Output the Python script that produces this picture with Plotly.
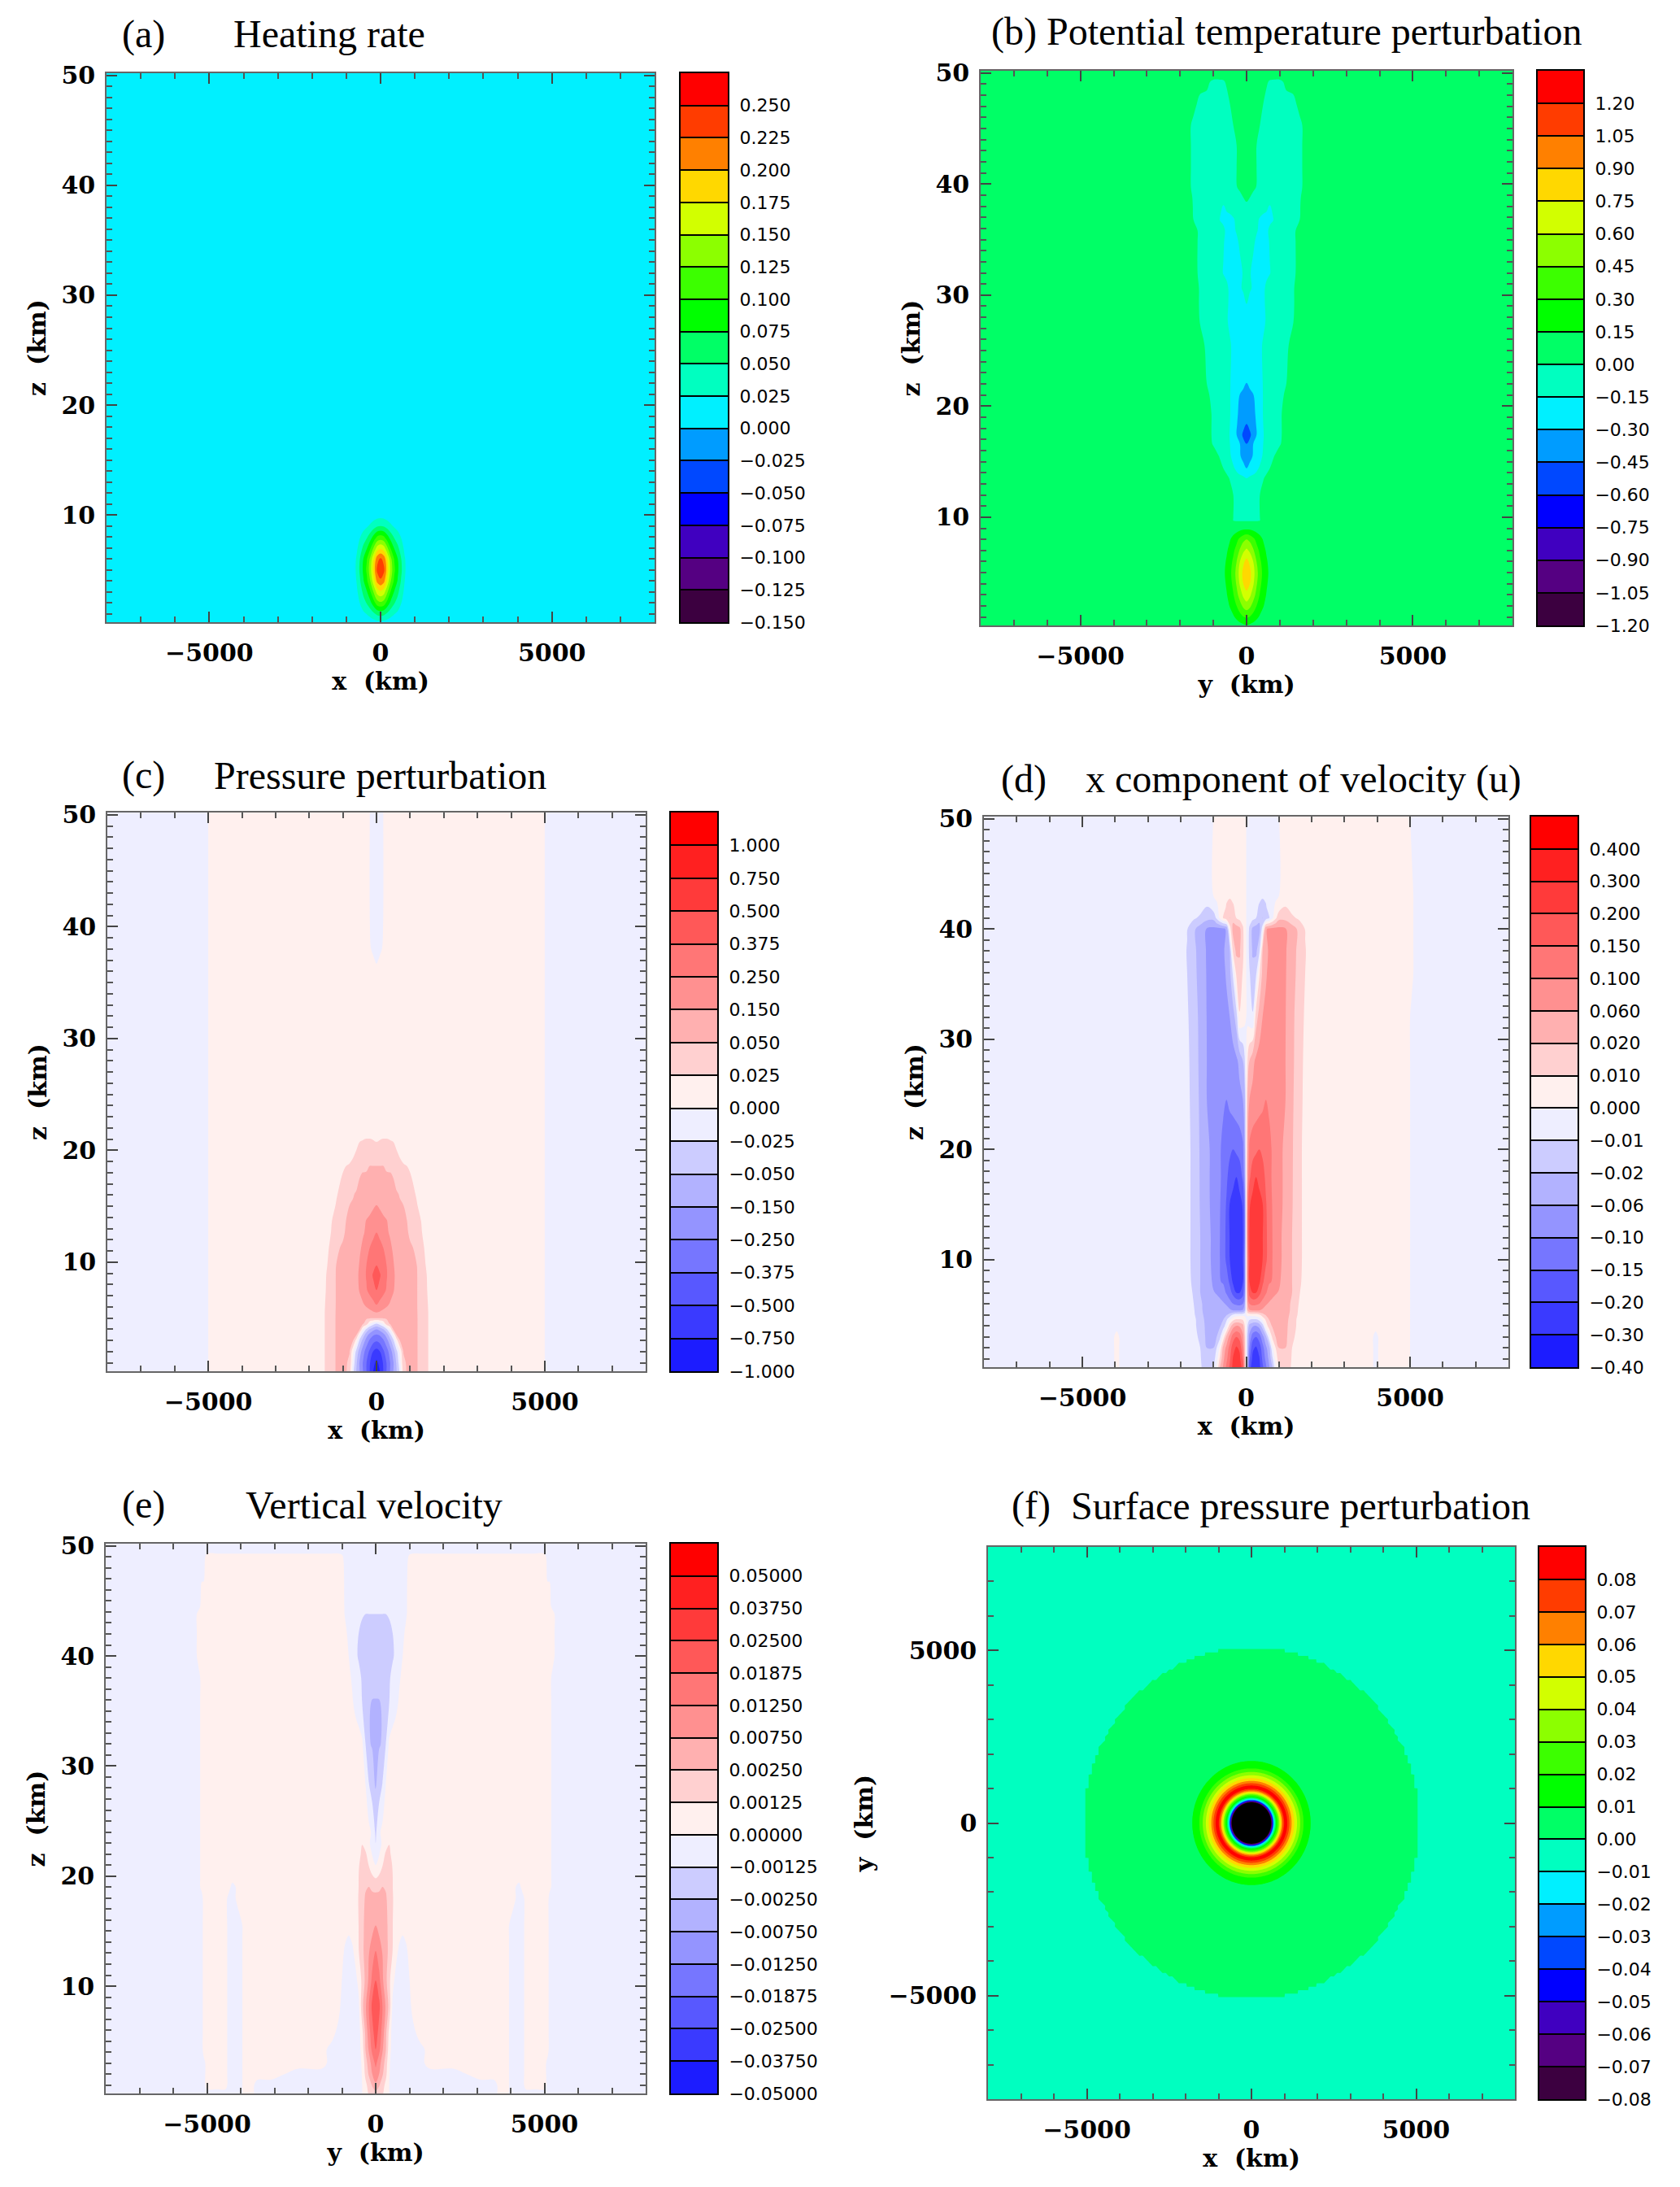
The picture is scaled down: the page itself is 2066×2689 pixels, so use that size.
import numpy as np
import plotly.graph_objects as go

W, H = 2066, 2689

RAINBOW = ["#3c0040", "#550082", "#4000c0", "#0000ff", "#0048ff", "#009cff", "#00f0ff", "#00ffc0", "#00ff66",
           "#00ff00", "#3cff00", "#8cff00", "#d2ff00", "#ffd800", "#ff8000", "#ff3c00", "#ff0000"]
BWR = ["#1c1cff", "#3a3aff", "#5858ff", "#7676ff", "#9494ff", "#b2b2ff", "#ccccff", "#eeeeff", "#fff0ee",
       "#ffd0d0", "#ffb0b0", "#ff9090", "#ff7676", "#ff5858", "#ff3a3a", "#ff2020", "#ff0000"]

# ---- colour bar levels and labels
A_LEVELS = [-.15, -.125, -.1, -.075, -.05, -.025, 0, .025, .05, .075, .1, .125, .15, .175, .2, .225, .25]
A_LABELS = ["−0.150", "−0.125", "−0.100", "−0.075", "−0.050", "−0.025", "0.000", "0.025", "0.050", "0.075",
            "0.100", "0.125", "0.150", "0.175", "0.200", "0.225", "0.250"]
B_LEVELS = [-1.2, -1.05, -.9, -.75, -.6, -.45, -.3, -.15, 0, .15, .3, .45, .6, .75, .9, 1.05, 1.2]
B_LABELS = ["−1.20", "−1.05", "−0.90", "−0.75", "−0.60", "−0.45", "−0.30", "−0.15", "0.00", "0.15", "0.30",
            "0.45", "0.60", "0.75", "0.90", "1.05", "1.20"]
C_LEVELS = [-1, -.75, -.5, -.375, -.25, -.15, -.05, -.025, 0, .025, .05, .15, .25, .375, .5, .75, 1]
C_LABELS = ["−1.000", "−0.750", "−0.500", "−0.375", "−0.250", "−0.150", "−0.050", "−0.025", "0.000", "0.025",
            "0.050", "0.150", "0.250", "0.375", "0.500", "0.750", "1.000"]
D_LEVELS = [-.4, -.3, -.2, -.15, -.1, -.06, -.02, -.01, 0, .01, .02, .06, .1, .15, .2, .3, .4]
D_LABELS = ["−0.40", "−0.30", "−0.20", "−0.15", "−0.10", "−0.06", "−0.02", "−0.01", "0.000", "0.010", "0.020",
            "0.060", "0.100", "0.150", "0.200", "0.300", "0.400"]
E_LEVELS = [-.05, -.0375, -.025, -.01875, -.0125, -.0075, -.0025, -.00125, 0, .00125, .0025, .0075, .0125,
            .01875, .025, .0375, .05]
E_LABELS = ["−0.05000", "−0.03750", "−0.02500", "−0.01875", "−0.01250", "−0.00750", "−0.00250", "−0.00125",
            "0.00000", "0.00125", "0.00250", "0.00750", "0.01250", "0.01875", "0.02500", "0.03750", "0.05000"]
F_LEVELS = [-.08, -.07, -.06, -.05, -.04, -.03, -.02, -.01, 0, .01, .02, .03, .04, .05, .06, .07, .08]
F_LABELS = ["−0.08", "−0.07", "−0.06", "−0.05", "−0.04", "−0.03", "−0.02", "−0.01", "0.00", "0.01", "0.02",
            "0.03", "0.04", "0.05", "0.06", "0.07", "0.08"]

# ---- (a) heating rate, half section x >= 0
A_X = [0, 100, 200, 300, 400, 500, 600, 700, 800, 8000]
A_Z = [.25, 1, 2, 3, 4, 5, 6, 7, 8, 9, 10, 50.2]
A_V = [
    [.02, .019, .015, .012, .01, .01, .01, .01, .01, .01],
    [.06, .056, .045, .034, .026, .02, .013, .008, .005, .01],
    [.12, .113, .09, .068, .052, .04, .026, .015, .006, .01],
    [.17, .16, .128, .097, .073, .056, .037, .02, .008, .01],
    [.22, .207, .166, .125, .095, .073, .048, .026, .011, .01],
    [.245, .23, .185, .14, .105, .08, .055, .03, .012, .01],
    [.23, .216, .174, .131, .099, .076, .051, .028, .012, .01],
    [.17, .16, .128, .097, .073, .056, .037, .02, .008, .01],
    [.11, .103, .083, .063, .047, .036, .024, .013, .006, .01],
    [.05, .047, .038, .029, .022, .016, .011, .006, .003, .01],
    [.015, .014, .012, .01, .01, .01, .01, .01, .01, .01],
    [.01, .01, .01, .01, .01, .01, .01, .01, .01, .01],
]

# ---- (b) potential temperature perturbation, half section y >= 0
B_X = [0, 100, 200, 300, 400, 500, 600, 700, 800, 1000, 1200, 1400, 1600, 1800, 8000]
B_Z = [.25, 1, 2, 3, 4, 5, 6, 7, 8, 8.9, 9.4, 9.7, 10, 12, 13.5, 14.4, 15.5, 16.6, 17.4, 18.4, 19.3, 21, 22.1,
       25.5, 27.7, 29.2, 30.6, 32, 34.8, 35.8, 36.8, 38, 38.8, 39.7, 41.5, 43.5, 45.3, 47.2, 49.2, 49.6, 50.2]
B_V = [
    [.14, .12, .1, .08, .06, .05, .05, .05, .05, .05, .05, .05, .05, .05, .05],
    [.32, .29, .24, .18, .13, .09, .06, .05, .05, .05, .05, .05, .05, .05, .05],
    [.53, .48, .39, .3, .22, .16, .1, .06, .05, .05, .05, .05, .05, .05, .05],
    [.7, .63, .52, .4, .29, .21, .14, .08, .05, .05, .05, .05, .05, .05, .05],
    [.83, .75, .62, .47, .34, .24, .17, .1, .05, .05, .05, .05, .05, .05, .05],
    [.87, .79, .66, .5, .37, .26, .185, .12, .07, .05, .05, .05, .05, .05, .05],
    [.8, .72, .6, .45, .33, .24, .17, .1, .06, .05, .05, .05, .05, .05, .05],
    [.63, .57, .47, .36, .27, .2, .13, .08, .05, .05, .05, .05, .05, .05, .05],
    [.45, .41, .34, .26, .2, .14, .09, .05, .05, .05, .05, .05, .05, .05, .05],
    [.15, .14, .12, .1, .08, .05, .05, .05, .05, .05, .05, .05, .05, .05, .05],
    [.05, .05, .05, .05, .05, .05, .05, .05, .05, .05, .05, .05, .05, .05, .05],
    [-.01, -.01, -.01, -.01, 0, .05, .05, .05, .05, .05, .05, .05, .05, .05, .05],
    [-.08, -.08, -.08, -.06, 0, .05, .05, .05, .05, .05, .05, .05, .05, .05, .05],
    [-.1, -.1, -.09, -.06, 0, .05, .05, .05, .05, .05, .05, .05, .05, .05, .05],
    [-.15, -.12, -.11, -.09, -.07, -.01, .03, .05, .05, .05, .05, .05, .05, .05, .05],
    [-.3, -.26, -.22, -.18, -.13, -.08, -.04, 0, .03, .05, .05, .05, .05, .05, .05],
    [-.37, -.34, -.29, -.25, -.2, -.13, -.09, -.05, -.01, .05, .05, .05, .05, .05, .05],
    [-.45, -.4, -.3, -.26, -.21, -.15, -.11, -.08, -.06, -.01, .05, .05, .05, .05, .05],
    [-.5, -.48, -.38, -.3, -.22, -.155, -.12, -.09, -.07, -.02, .05, .05, .05, .05, .05],
    [-.45, -.4, -.35, -.29, -.21, -.15, -.12, -.09, -.07, -.02, .05, .05, .05, .05, .05],
    [-.42, -.39, -.33, -.28, -.2, -.145, -.12, -.09, -.07, -.02, .05, .05, .05, .05, .05],
    [-.36, -.33, -.305, -.26, -.2, -.145, -.12, -.09, -.07, -.03, .02, .05, .05, .05, .05],
    [-.3, -.27, -.24, -.21, -.18, -.145, -.12, -.09, -.07, -.03, 0, .05, .05, .05, .05],
    [-.23, -.22, -.2, -.19, -.17, -.14, -.11, -.09, -.07, -.04, -.01, .02, .05, .05, .05],
    [-.22, -.21, -.2, -.19, -.18, -.17, -.14, -.11, -.09, -.06, -.03, -.004, .05, .05, .05],
    [-.15, -.18, -.19, -.2, -.19, -.17, -.13, -.1, -.09, -.06, -.03, -.01, .05, .05, .05],
    [-.12, -.14, -.16, -.2, -.2, -.17, -.13, -.1, -.09, -.06, -.03, -.01, .05, .05, .05],
    [-.1, -.14, -.18, -.19, -.2, -.19, -.17, -.155, -.12, -.07, -.05, -.03, .05, .05, .05],
    [-.09, -.11, -.13, -.17, -.19, -.19, -.18, -.14, -.11, -.08, -.05, -.03, .05, .05, .05],
    [-.08, -.09, -.1, -.14, -.17, -.2, -.17, -.13, -.1, -.08, -.05, -.03, .05, .05, .05],
    [-.07, -.09, -.12, -.13, -.16, -.18, -.18, -.17, -.155, -.09, -.06, -.03, 0, .05, .05],
    [-.04, -.07, -.08, -.09, -.1, -.11, -.13, -.16, -.12, -.08, -.06, -.03, -.005, .05, .05],
    [.04, 0, -.07, -.08, -.08, -.08, -.08, -.08, -.08, -.08, -.06, -.03, -.01, .05, .05],
    [.05, .05, .05, -.01, -.08, -.08, -.08, -.08, -.08, -.08, -.06, -.05, -.03, .05, .05],
    [.05, .05, .05, 0, -.08, -.08, -.08, -.08, -.08, -.08, -.08, -.06, -.03, .05, .05],
    [.05, .05, .05, 0, -.08, -.08, -.08, -.08, -.08, -.08, -.08, -.06, -.03, .05, .05],
    [.05, .05, .05, .05, 0, -.08, -.08, -.08, -.08, -.08, -.08, -.06, -.03, .05, .05],
    [.05, .05, .05, .05, .05, 0, -.08, -.08, -.08, -.08, -.08, -.04, .04, .05, .05],
    [.05, .05, .05, .05, .05, .05, .03, -.03, -.05, -.05, .05, .05, .05, .05, .05],
    [.05, .05, .05, .05, .05, .05, .05, .05, .05, .05, .05, .05, .05, .05, .05],
    [.05, .05, .05, .05, .05, .05, .05, .05, .05, .05, .05, .05, .05, .05, .05],
]

# ---- (c) pressure perturbation, half section x >= 0
C_X = [0, 100, 200, 300, 400, 500, 600, 700, 800, 900, 1000, 1200, 1400, 1600, 1700, 4950, 5050, 8000]
C_Z = [.25, 1, 2, 3, 3.5, 4, 4.5, 5, 5.5, 6.2, 7.5, 8.85, 9.7, 11.3, 12.65, 13.7, 15.1, 16.1, 18, 18.6, 20, 20.75,
       21, 21.5, 36.5, 37, 38, 40, 50.2]
C_V = [
    [-.85, -.75, -.5, -.37, -.25, -.15, -.05, -.018, .038, .058, .06, .056, .036, .02, .0125, .0125, -.0125, -.0125],
    [-.8, -.68, -.49, -.37, -.26, -.16, -.045, -.008, .045, .058, .06, .056, .036, .02, .0125, .0125, -.0125, -.0125],
    [-.6, -.51, -.4, -.31, -.21, -.1, -.032, .006, .054, .06, .06, .056, .036, .02, .0125, .0125, -.0125, -.0125],
    [-.36, -.33, -.27, -.19, -.09, -.03, .015, .057, .062, .062, .06, .056, .036, .02, .0125, .0125, -.0125, -.0125],
    [-.26, -.24, -.19, -.11, -.035, .002, .058, .065, .065, .062, .06, .056, .036, .02, .0125, .0125, -.0125, -.0125],
    [-.15, -.12, -.06, -.03, .002, .054, .064, .065, .065, .062, .06, .056, .036, .02, .0125, .0125, -.0125, -.0125],
    [-.025, -.014, .002, .04, .058, .062, .065, .065, .065, .063, .061, .056, .036, .02, .0125, .0125, -.0125, -.0125],
    [.055, .056, .058, .06, .062, .063, .065, .066, .066, .064, .062, .056, .036, .02, .0125, .0125, -.0125, -.0125],
    [.15, .14, .125, .115, .105, .095, .085, .075, .07, .066, .063, .055, .036, .02, .0125, .0125, -.0125, -.0125],
    [.25, .22, .19, .165, .14, .11, .09, .078, .07, .066, .063, .054, .034, .02, .0125, .0125, -.0125, -.0125],
    [.375, .33, .29, .24, .2, .16, .11, .085, .075, .07, .065, .054, .033, .018, .0125, .0125, -.0125, -.0125],
    [.42, .39, .31, .26, .21, .17, .12, .085, .075, .07, .065, .054, .032, .017, .0125, .0125, -.0125, -.0125],
    [.375, .33, .29, .25, .2, .16, .11, .08, .07, .065, .06, .05, .03, .014, .0125, .0125, -.0125, -.0125],
    [.3, .28, .25, .21, .17, .135, .09, .075, .068, .062, .056, .048, .026, .0125, .0125, .0125, -.0125, -.0125],
    [.25, .23, .2, .165, .14, .1, .08, .07, .063, .056, .048, .035, .022, .0125, .0125, .0125, -.0125, -.0125],
    [.21, .19, .17, .155, .125, .09, .075, .065, .06, .052, .045, .033, .02, .0125, .0125, .0125, -.0125, -.0125],
    [.15, .135, .115, .095, .08, .07, .062, .055, .05, .04, .035, .026, .015, .0125, .0125, .0125, -.0125, -.0125],
    [.12, .11, .09, .08, .07, .062, .055, .049, .042, .036, .032, .023, .0125, .0125, .0125, .0125, -.0125, -.0125],
    [.057, .056, .055, .053, .051, .049, .043, .037, .033, .029, .025, .015, .0125, .0125, .0125, .0125, -.0125, -.0125],
    [.05, .05, .05, .046, .042, .037, .033, .03, .027, .025, .02, .0125, .0125, .0125, .0125, .0125, -.0125, -.0125],
    [.03, .03, .031, .031, .03, .028, .025, .02, .015, .0125, .0125, .0125, .0125, .0125, .0125, .0125, -.0125, -.0125],
    [.025, .027, .028, .028, .027, .025, .022, .018, .0125, .0125, .0125, .0125, .0125, .0125, .0125, .0125, -.0125, -.0125],
    [.022, .024, .026, .026, .024, .02, .0125, .0125, .0125, .0125, .0125, .0125, .0125, .0125, .0125, .0125, -.0125, -.0125],
    [.0125, .0125, .0125, .0125, .0125, .0125, .0125, .0125, .0125, .0125, .0125, .0125, .0125, .0125, .0125, .0125, -.0125, -.0125],
    [.002, .0125, .0125, .0125, .0125, .0125, .0125, .0125, .0125, .0125, .0125, .0125, .0125, .0125, .0125, .0125, -.0125, -.0125],
    [-.004, .004, .0125, .0125, .0125, .0125, .0125, .0125, .0125, .0125, .0125, .0125, .0125, .0125, .0125, .0125, -.0125, -.0125],
    [-.01, -.005, .003, .0125, .0125, .0125, .0125, .0125, .0125, .0125, .0125, .0125, .0125, .0125, .0125, .0125, -.0125, -.0125],
    [-.012, -.01, .0005, .0125, .0125, .0125, .0125, .0125, .0125, .0125, .0125, .0125, .0125, .0125, .0125, .0125, -.0125, -.0125],
    [-.0125, -.012, 0, .0125, .0125, .0125, .0125, .0125, .0125, .0125, .0125, .0125, .0125, .0125, .0125, .0125, -.0125, -.0125],
]

# ---- (d) u velocity, section x >= 0 (the other side has the opposite sign)
D_X = [0, 50, 100, 200, 300, 400, 500, 600, 700, 800, 900, 1000, 1200, 1400, 1600, 1800, 2000]
D_Z = [.25, 1, 2, 3, 4, 4.6, 5, 5.4, 6, 7, 8, 10, 12, 15, 17.5, 20, 24.5, 28, 32, 36, 38, 40, 41, 42, 43, 50.2]
D_V = [
    [0, -.05, -.18, -.25, -.27, -.23, -.16, -.11, -.065, -.02, -.001, .012, .014, .009, .006, .005, .005],
    [0, -.04, -.14, -.23, -.26, -.21, -.14, -.09, -.05, -.012, .004, .015, .018, .009, .006, .005, .005],
    [0, -.03, -.1, -.19, -.215, -.18, -.12, -.07, -.035, -.002, .01, .02, .02, .01, .006, .005, .005],
    [0, -.02, -.07, -.13, -.15, -.125, -.075, -.03, -.004, .012, .02, .03, .03, .0125, .006, .005, .005],
    [0, -.012, -.035, -.055, -.06, -.045, -.015, .004, .015, .025, .03, .035, .03, .015, .007, .005, .005],
    [0, -.004, -.008, -.01, -.01, -.006, .003, .012, .022, .03, .035, .04, .032, .016, .007, .005, .005],
    [0, .002, .003, .004, .005, .008, .016, .025, .03, .036, .04, .042, .035, .017, .0085, .005, .005],
    [0, .03, .055, .062, .062, .06, .052, .045, .04, .04, .042, .043, .036, .018, .009, .005, .005],
    [0, .06, .1, .115, .11, .1, .085, .065, .055, .05, .05, .05, .04, .018, .01, .005, .005],
    [0, .1, .17, .2, .2, .165, .13, .105, .085, .07, .062, .058, .042, .02, .011, .006, .005],
    [0, .12, .2, .235, .245, .22, .16, .125, .105, .098, .08, .065, .042, .02, .012, .007, .005],
    [0, .12, .2, .25, .25, .24, .2, .16, .125, .1, .085, .07, .045, .02, .013, .007, .005],
    [0, .14, .205, .25, .25, .24, .205, .16, .13, .1, .085, .07, .045, .02, .012, .008, .005],
    [0, .13, .195, .235, .24, .225, .205, .155, .125, .098, .085, .072, .05, .023, .012, .008, .005],
    [0, .08, .14, .18, .2, .19, .17, .14, .115, .095, .085, .073, .05, .024, .012, .008, .005],
    [0, .06, .11, .13, .14, .15, .14, .125, .11, .097, .085, .073, .05, .025, .012, .008, .005],
    [0, .04, .06, .07, .075, .08, .09, .1, .095, .09, .082, .075, .06, .028, .013, .008, .005],
    [0, .012, .022, .05, .068, .075, .08, .082, .082, .08, .076, .072, .06, .03, .014, .008, .005],
    [0, -.003, -.006, -.009, .015, .038, .06, .07, .075, .078, .075, .072, .061, .033, .014, .009, .005],
    [0, -.003, -.009, -.017, -.012, .008, .03, .055, .07, .075, .073, .07, .062, .04, .016, .01, .006],
    [0, -.004, -.013, -.025, -.03, -.012, .02, .045, .067, .075, .072, .07, .063, .04, .017, .0105, .006],
    [0, -.004, -.012, -.03, -.04, -.035, -.005, .055, .068, .073, .072, .07, .063, .04, .018, .0095, .005],
    [0, -.002, -.004, -.007, -.01, -.017, -.021, -.016, -.011, -.002, .008, .017, .017, .012, .0085, .004, .004],
    [0, -.002, -.003, -.005, -.008, -.011, -.013, -.011, -.006, -.003, .002, .005, .0105, .006, .004, .003, .003],
    [0, -.002, -.003, -.005, -.006, -.008, -.009, -.008, -.006, -.004, -.002, 0, .005, .005, .005, .005, .005],
    [0, -.002, -.003, -.004, -.005, -.005, -.005, -.005, -.005, -.005, -.003, 0, .005, .005, .005, .005, .005],
]
D_OUTER_X = [2200, 3800, 3950, 4100, 4950, 5050, 5150, 8000]
D_OUTER_V = [
    [.005] * 26,
    [.005] * 26,
    [-.005] * 4 + [.005] * 22,
    [.005] * 26,
    [.005] * 26,
    [-.005] * 19 + [.005] * 6 + [-.005],
    [-.005] * 26,
    [-.005] * 26,
]

# ---- (e) vertical velocity, half section y >= 0
E_X = [0, 100, 200, 300, 400, 500, 600, 700, 800, 900, 1000]
E_Z = [.25, 1, 2, 3, 4.25, 5.7, 8.2, 10.5, 13.2, 14.6, 15.5, 18, 19, 19.8, 21, 22, 23, 24, 28, 32, 36, 38, 40, 42,
       43.8, 44.5, 49, 49.6, 50.2]
E_V = [
    [.002, .0018, .0015, .0005, 0, -.0006, -.0006, -.0006, -.0006, -.0006, -.0006],
    [.0065, .003, .0018, .0009, 0, -.0006, -.0006, -.0006, -.0006, -.0006, -.0006],
    [.0105, .0075, .0032, .0016, .0001, -.0006, -.0006, -.0006, -.0006, -.0006, -.0006],
    [.014, .0095, .0052, .0019, .0002, -.0006, -.0006, -.0006, -.0006, -.0006, -.0006],
    [.01875, .0145, .0082, .0028, .0006, -.0006, -.0006, -.0006, -.0006, -.0006, -.0006],
    [.022, .0165, .0105, .0035, .0009, -.0006, -.0006, -.0006, -.0006, -.0006, -.0006],
    [.024, .0205, .0125, .0068, .0021, -.0002, -.0006, -.0006, -.0006, -.0006, -.0006],
    [.0188, .0145, .0085, .0038, .0016, .0003, -.0003, -.0006, -.0006, -.0003, -.00003],
    [.0125, .0098, .0073, .0042, .0022, .00125, .0003, -.0002, -.0006, -.0002, .0003],
    [.009, .0075, .0055, .0038, .0022, .0013, .0005, .0002, 0, .0002, .0005],
    [.0075, .0066, .0052, .0037, .0022, .0013, .0005, .0006, .0006, .0006, .0006],
    [.0045, .0042, .0036, .003, .0021, .0014, .0005, .0006, .0006, .0006, .0006],
    [.002, .0022, .0026, .0024, .0018, .0013, .0005, .0006, .0006, .0006, .0006],
    [.00125, .0015, .002, .0021, .0018, .0013, .0005, .0006, .0006, .0006, .0006],
    [0, .0005, .0012, .0016, .0016, .0012, .0005, .0006, .0006, .0006, .0006],
    [-.0003, -.0001, .0008, .0014, .0015, .0009, .0005, .0006, .0006, .0006, .0006],
    [-.00125, -.0005, .0002, .0008, .0012, .0008, .0005, .0006, .0006, .0006, .0006],
    [-.0015, -.0002, .0003, .0005, .0005, .0005, .0005, .0006, .0006, .0006, .0006],
    [-.0028, -.0018, -.0011, .0001, .0005, .0005, .0005, .0006, .0006, .0006, .0006],
    [-.0032, -.0029, -.0024, -.00125, .0002, .0005, .0005, .0006, .0006, .0006, .0006],
    [-.0026, -.0026, -.0022, -.0017, -.0013, -.0008, -.0003, .0001, .0005, .0006, .0006],
    [-.0021, -.002, -.0019, -.0016, -.0014, -.0009, -.0005, -.0001, .0002, .0005, .0006],
    [-.0018, -.0018, -.0017, -.0016, -.0015, -.0014, -.001, -.0005, 0, .0004, .0006],
    [-.0017, -.0017, -.0016, -.0015, -.0014, -.00127, -.0009, -.0006, -.0002, .0002, .0005],
    [-.00126, -.00126, -.00126, -.00125, -.0012, -.001, -.0008, -.0006, -.0003, -.0001, .0003],
    [-.0008, -.0008, -.0008, -.0008, -.0008, -.0008, -.0008, -.0008, -.0008, -.0002, .0005],
    [-.0006, -.0006, -.0006, -.0006, -.0006, -.0006, -.0006, -.0006, -.0006, -.0006, .0003],
    [-.0006, -.0006, -.0006, -.0006, -.0006, -.0006, -.0006, -.0006, -.0006, -.0006, -.0006],
    [-.0006, -.0006, -.0006, -.0006, -.0006, -.0006, -.0006, -.0006, -.0006, -.0006, -.0006],
]
# outer columns: x, first row index that is positive, first top row index that is negative again
E_OUTER = [(1100, 6, 27), (1300, 5, 27), (1600, 3, 27), (2300, 3, 27), (3100, 2, 27), (3500, 2, 27), (3700, 0, 27),
           (3850, 0, 27), (4050, 11, 27), (4250, 13, 27), (4350, 12, 27), (4450, 1, 27), (4700, 1, 27), (5000, 1, 27),
           (5100, 4, 26), (5150, 12, 26), (5250, 22, 25), (5350, 0, 0), (8000, 0, 0)]
E_OUTER_MAG = .0006

# ---- (f) surface pressure perturbation, radial profile
F_R = [0, 600, 625, 650, 675, 700, 740, 780, 824, 850, 880, 915, 950, 990, 1040, 1087, 1153, 1220, 1300, 1384, 1480,
       1580, 1795, 1900, 5099.5, 5100, 12000]
F_P = [-.3, -.08, -.06, -.04, -.02, -.005, .01, .02, .03, .04, .05, .06, .07, .08, .088, .08, .07, .06, .05, .04, .03,
       .02, .01, .008, .004, -.005, -.005]
F_GRID_COARSE = 100
F_GRID_FINE = 20


def mirror(half_x, half_v, left_sign=1):
    x = np.asarray(half_x, float)
    v = np.asarray(half_v, float)
    return np.r_[-x[:0:-1], x], np.c_[left_sign * v[:, :0:-1], v]


def to_index(values, levels):
    g0, g1 = levels[1] - levels[0], levels[-1] - levels[-2]
    xp = [levels[0] - 100 * g0] + list(levels) + [levels[-1] + 100 * g1]
    fp = [-100] + list(range(len(levels))) + [len(levels) + 99]
    return np.interp(values, xp, fp)


ax_x, ax_v = mirror(A_X, A_V)
bx_x, bx_v = mirror(B_X, B_V)
cx_x, cx_v = mirror(C_X, C_V)

dd_x = list(D_X) + D_OUTER_X
dd_v = np.c_[np.asarray(D_V, float), np.asarray(D_OUTER_V, float).T]
dx_x, dx_v = mirror(dd_x, dd_v, left_sign=-1)
dx_v[:, dx_x <= -4100] = -np.abs(dx_v[:, dx_x <= -4100])

e_cols = []
for _, a, b in E_OUTER:
    col = [E_OUTER_MAG if a <= i < b else -E_OUTER_MAG for i in range(len(E_Z))]
    e_cols.append(col)
ee_x = list(E_X) + [c[0] for c in E_OUTER]
ee_v = np.c_[np.asarray(E_V, float), np.asarray(e_cols, float).T]
ex_x, ex_v = mirror(ee_x, ee_v)

coarse = np.arange(-8000, -2200, F_GRID_COARSE)
fine = np.arange(-2200, 2200 + 1, F_GRID_FINE)
f_x = np.r_[coarse, fine, -coarse[::-1]]
f_xx, f_yy = np.meshgrid(f_x, f_x)
f_v = np.interp(np.hypot(f_xx, f_yy), F_R, F_P)

X_TICKS = [-5000, 0, 5000]
Z_TICKS = [10, 20, 30, 40, 50]

# each panel: x, y, values, levels, labels, colours, under colour, axis titles, box px, bar px
PANELS = [
    dict(x=ax_x, y=A_Z, v=ax_v, lv=A_LEVELS, lb=A_LABELS, c=RAINBOW, xt="x", yt="z",
         box=(131, 805, 90, 765), bar=(837, 895, 90, 765)),
    dict(x=bx_x, y=B_Z, v=bx_v, lv=B_LEVELS, lb=B_LABELS, c=RAINBOW, xt="y", yt="z",
         box=(1206, 1860, 87, 769), bar=(1891, 1947, 87, 769)),
    dict(x=cx_x, y=C_Z, v=cx_v, lv=C_LEVELS, lb=C_LABELS, c=BWR, xt="x", yt="z",
         box=(132, 794, 999, 1686), bar=(825, 882, 999, 1686)),
    dict(x=dx_x, y=D_Z, v=dx_v, lv=D_LEVELS, lb=D_LABELS, c=BWR, xt="x", yt="z",
         box=(1210, 1855, 1004, 1681), bar=(1883, 1940, 1004, 1681)),
    dict(x=ex_x, y=E_Z, v=ex_v, lv=E_LEVELS, lb=E_LABELS, c=BWR, xt="y", yt="z",
         box=(130, 794, 1898, 2574), bar=(825, 882, 1898, 2574)),
    dict(x=f_x, y=f_x, v=f_v, lv=F_LEVELS, lb=F_LABELS, c=RAINBOW, xt="x", yt="y", under="#000000",
         box=(1215, 1863, 1902, 2581), bar=(1893, 1949, 1902, 2581)),
]

TITLES = [
    ("(a)", 148, 42), ("Heating rate", 285, 42),
    ("(b) Potential temperature perturbation", 1217, 39),
    ("(c)", 148, 953), ("Pressure perturbation", 261, 953),
    ("(d)", 1229, 958), ("x component of velocity (u)", 1333, 958),
    ("(e)", 148, 1850), ("Vertical velocity", 300, 1850),
    ("(f)", 1242, 1851), ("Surface pressure perturbation", 1315, 1851),
]

TICK_FONT = dict(family="DejaVu Serif", size=30, color="#000000", weight="bold")
BAR_FONT = dict(family="DejaVu Sans", size=22, color="#000000")
TITLE_FONT = dict(family="Liberation Serif", size=48, color="#000000")

fig = go.Figure()
layout = {}

for i, p in enumerate(PANELS):
    n = i + 1
    m = i + 7
    under = p.get("under", p["c"][0])
    cols = [under] + p["c"]
    scale = [[k / (len(cols) - 1), c] for k, c in enumerate(cols)]
    fig.add_trace(go.Contour(
        x=p["x"], y=p["y"], z=to_index(p["v"], p["lv"]),
        autocontour=False, contours=dict(start=0, end=16, size=1, coloring="fill", showlines=False),
        line=dict(width=0), colorscale=scale, showscale=False, hoverinfo="skip",
        xaxis=f"x{n}", yaxis=f"y{n}"))
    idx = list(range(17))
    fig.add_trace(go.Heatmap(
        x=[0, 1], y=[k + .5 for k in idx], z=[[k, k] for k in idx], zmin=0, zmax=16,
        colorscale=[[k / 16, c] for k, c in enumerate(p["c"])], showscale=False, hoverinfo="skip",
        xaxis=f"x{m}", yaxis=f"y{m}"))

    l, r, t, b = p["box"]
    is_map = p["yt"] == "y"
    minor = dict(ticks="inside", ticklen=7, tickwidth=1.5, tickcolor="#555555")
    xax = dict(domain=[l / W, r / W], range=[-8000, 8000], anchor=f"y{n}", tickmode="array", tickvals=X_TICKS,
               ticktext=["−5000", "0", "5000"], ticks="inside", ticklen=13, tickwidth=1.5, tickcolor="#444444",
               showline=True, linecolor="#666666", linewidth=1.5, mirror="ticks", showgrid=False, zeroline=False,
               tickfont=TICK_FONT, ticklabelstandoff=10, automargin=False,
               minor=dict(dtick=1000, tick0=0, **minor),
               title=dict(text=p["xt"] + "\u00a0\u00a0(km)", font=TICK_FONT, standoff=4))
    if is_map:
        yr, yv, yt, yminor = [-8000, 8000], X_TICKS, ["−5000", "0", "5000"], 1000
    else:
        yr, yv, yt, yminor = [.25, 50.2], Z_TICKS, [str(v) for v in Z_TICKS], 1
    yax = dict(domain=[1 - b / H, 1 - t / H], range=yr, anchor=f"x{n}", tickmode="array", tickvals=yv, ticktext=yt,
               ticks="inside", ticklen=13, tickwidth=1.5, tickcolor="#444444", showline=True, linecolor="#666666",
               linewidth=1.5, mirror="ticks", showgrid=False, zeroline=False, tickfont=TICK_FONT,
               ticklabelstandoff=6, automargin=False, minor=dict(dtick=yminor, tick0=0, **minor),
               title=dict(text=p["yt"] + "\u00a0\u00a0(km)", font=TICK_FONT, standoff=10))
    layout[f"xaxis{n}"] = xax
    layout[f"yaxis{n}"] = yax

    l2, r2, t2, b2 = p["bar"]
    layout[f"xaxis{m}"] = dict(domain=[l2 / W, r2 / W], range=[0, 1], anchor=f"y{m}", showticklabels=False,
                               ticks="", showline=True, linecolor="#000000", linewidth=2, mirror=True,
                               showgrid=False, zeroline=False, automargin=False)
    layout[f"yaxis{m}"] = dict(domain=[1 - b2 / H, 1 - t2 / H], range=[0, 17], anchor=f"x{m}", side="right",
                               tickmode="array", tickvals=idx, ticktext=p["lb"], ticks="inside", ticklen=r2 - l2,
                               tickwidth=2, tickcolor="#000000", showline=True, linecolor="#000000", linewidth=2,
                               mirror=True, showgrid=False, zeroline=False, tickfont=BAR_FONT, ticklabelstandoff=8,
                               automargin=False)

annotations = [dict(text=s, x=px / W, y=1 - py / H, xref="paper", yref="paper", xanchor="left", yanchor="middle",
                    showarrow=False, font=TITLE_FONT) for s, px, py in TITLES]

fig.update_layout(width=W, height=H, margin=dict(l=0, r=0, t=0, b=0, autoexpand=False), paper_bgcolor="#ffffff",
                  plot_bgcolor="#ffffff", showlegend=False, annotations=annotations, **layout)
fig.write_html("out.html", config={"displayModeBar": False}, post_script="document.body.style.margin='0';")
